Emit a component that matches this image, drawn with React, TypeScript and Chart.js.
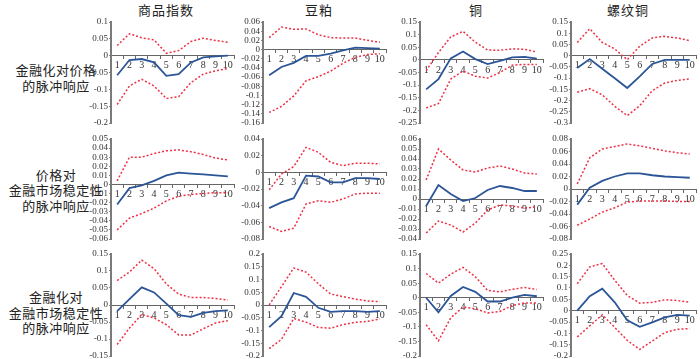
import React, { useEffect, useRef } from "react";
import { Chart, registerables } from "chart.js";

Chart.register(...registerables);

// ---------- data ----------
const PERIODS = ["1", "2", "3", "4", "5", "6", "7", "8", "9", "10"];
const COLUMN_TITLES = ["商品指数", "豆粕", "铜", "螺纹铜"];
const ROW_LABELS = [
  ["金融化对价格", "的脉冲响应"],
  ["价格对", "金融市场稳定性", "的脉冲响应"],
  ["金融化对", "金融市场稳定性", "的脉冲响应"],
];

// Row 1: 金融化对价格的脉冲响应
const r1IndexIrf = [-0.058, -0.013, -0.01, -0.02, -0.06, -0.055, -0.02, -0.005, -0.002, 0];
const r1IndexUp = [0.03, 0.065, 0.053, 0.047, 0.007, 0.015, 0.042, 0.052, 0.045, 0.04];
const r1IndexLo = [-0.145, -0.09, -0.07, -0.09, -0.127, -0.122, -0.08, -0.055, -0.045, -0.038];
const r1SoyIrf = [-0.056, -0.038, -0.029, -0.014, -0.014, -0.009, -0.002, 0.004, 0.003, 0.002];
const r1SoyUp = [0.026, 0.049, 0.044, 0.045, 0.032, 0.026, 0.025, 0.025, 0.02, 0.016];
const r1SoyLo = [-0.137, -0.124, -0.101, -0.068, -0.059, -0.047, -0.03, -0.017, -0.011, -0.009];
const r1CuIrf = [-0.117, -0.076, 0.006, 0.033, 0.003, -0.017, -0.004, 0.01, 0.012, 0.005];
const r1CuUp = [-0.043, 0.029, 0.091, 0.113, 0.07, 0.039, 0.038, 0.044, 0.042, 0.031];
const r1CuLo = [-0.19, -0.173, -0.076, -0.044, -0.065, -0.072, -0.05, -0.021, -0.018, -0.018];
const r1RebarIrf = [-0.055, -0.015, -0.058, -0.101, -0.144, -0.092, -0.037, -0.019, -0.019, -0.019];
const r1RebarUp = [0.059, 0.12, 0.059, 0.03, -0.018, 0.042, 0.079, 0.086, 0.079, 0.067];
const r1RebarLo = [-0.163, -0.147, -0.174, -0.226, -0.267, -0.223, -0.156, -0.122, -0.11, -0.103];

// Row 2: 价格对金融市场稳定性的脉冲响应
const r2IndexIrf = [-0.022, -0.004, -0.001, 0.004, 0.01, 0.013, 0.012, 0.011, 0.01, 0.009];
const r2IndexUp = [0.004, 0.03, 0.03, 0.034, 0.037, 0.038, 0.036, 0.033, 0.029, 0.027];
const r2IndexLo = [-0.05, -0.037, -0.032, -0.026, -0.018, -0.013, -0.011, -0.01, -0.009, -0.009];
const r2SoyIrf = [-0.043, -0.036, -0.031, -0.004, -0.005, -0.012, -0.012, -0.007, -0.007, -0.008];
const r2SoyUp = [-0.021, -0.002, 0.007, 0.03, 0.024, 0.012, 0.008, 0.011, 0.011, 0.01];
const r2SoyLo = [-0.065, -0.071, -0.067, -0.038, -0.034, -0.036, -0.032, -0.026, -0.025, -0.025];
const r2CuIrf = [-0.007, 0.014, 0.005, -0.002, 0.001, 0.009, 0.013, 0.011, 0.008, 0.008];
const r2CuUp = [0.019, 0.05, 0.039, 0.029, 0.027, 0.031, 0.033, 0.03, 0.026, 0.025];
const r2CuLo = [-0.034, -0.022, -0.026, -0.033, -0.024, -0.011, -0.006, -0.007, -0.009, -0.008];
const r2RebarIrf = [-0.025, 0.002, 0.013, 0.02, 0.025, 0.025, 0.022, 0.02, 0.019, 0.018];
const r2RebarUp = [0.008, 0.05, 0.064, 0.068, 0.072, 0.069, 0.065, 0.061, 0.058, 0.056];
const r2RebarLo = [-0.058, -0.048, -0.037, -0.03, -0.021, -0.019, -0.019, -0.019, -0.02, -0.02];

// Row 3: 金融化对金融市场稳定性的脉冲响应
const r3IndexIrf = [-0.018, 0.017, 0.052, 0.037, 0.004, -0.03, -0.035, -0.023, -0.018, -0.016];
const r3IndexUp = [0.072, 0.097, 0.132, 0.107, 0.062, 0.032, 0.022, 0.022, 0.019, 0.015];
const r3IndexLo = [-0.116, -0.068, -0.028, -0.038, -0.058, -0.088, -0.088, -0.07, -0.053, -0.046];
const r3SoyIrf = [-0.087, -0.044, 0.047, 0.032, -0.011, -0.027, -0.024, -0.024, -0.027, -0.024];
const r3SoyUp = [0, 0.072, 0.145, 0.129, 0.083, 0.043, 0.033, 0.023, 0.016, 0.013];
const r3SoyLo = [-0.171, -0.135, -0.053, -0.067, -0.088, -0.091, -0.077, -0.068, -0.064, -0.055];
const r3CuIrf = [0, -0.05, 0.006, 0.037, 0.02, -0.013, -0.013, 0, 0.01, 0.005];
const r3CuUp = [0.083, 0.05, 0.081, 0.104, 0.072, 0.025, 0.02, 0.029, 0.035, 0.028];
const r3CuLo = [-0.093, -0.148, -0.069, -0.032, -0.038, -0.052, -0.047, -0.027, -0.018, -0.018];
const r3RebarIrf = [0, 0.064, 0.097, 0.037, -0.042, -0.071, -0.052, -0.03, -0.019, -0.022];
const r3RebarUp = [0.119, 0.193, 0.208, 0.134, 0.067, 0.033, 0.037, 0.048, 0.045, 0.037];
const r3RebarLo = [-0.116, -0.067, -0.018, -0.074, -0.131, -0.171, -0.134, -0.097, -0.082, -0.079];

// Y tick labels per panel
const r1IndexTicks = [0.1, 0.05, 0, -0.05, -0.1, -0.15, -0.2];
const r1SoyTicks = [0.06, 0.04, 0.02, 0, -0.02, -0.04, -0.06, -0.08, -0.1, -0.12, -0.14, -0.16];
const r1CuTicks = [0.15, 0.1, 0.05, 0, -0.05, -0.1, -0.15, -0.2, -0.25];
const r1RebarTicks = [0.15, 0.1, 0.05, 0, -0.05, -0.1, -0.15, -0.2, -0.25, -0.3];
const r2IndexTicks = [0.05, 0.04, 0.03, 0.02, 0.01, 0, -0.01, -0.02, -0.03, -0.04, -0.05, -0.06];
const r2SoyTicks = [0.04, 0.02, 0, -0.02, -0.04, -0.06, -0.08];
const r2CuTicks = [0.06, 0.05, 0.04, 0.03, 0.02, 0.01, 0, -0.01, -0.02, -0.03, -0.04];
const r2RebarTicks = [0.08, 0.06, 0.04, 0.02, 0, -0.02, -0.04, -0.06, -0.08];
const r3IndexTicks = [0.15, 0.1, 0.05, 0, -0.05, -0.1, -0.15];
const r3SoyTicks = [0.2, 0.15, 0.1, 0.05, 0, -0.05, -0.1, -0.15, -0.2];
const r3CuTicks = [0.15, 0.1, 0.05, 0, -0.05, -0.1, -0.15, -0.2];
const r3RebarTicks = [0.25, 0.2, 0.15, 0.1, 0.05, 0, -0.05, -0.1, -0.15, -0.2];

const PANELS = [
  [
    { irf: r1IndexIrf, up: r1IndexUp, lo: r1IndexLo, ticks: r1IndexTicks },
    { irf: r1SoyIrf, up: r1SoyUp, lo: r1SoyLo, ticks: r1SoyTicks },
    { irf: r1CuIrf, up: r1CuUp, lo: r1CuLo, ticks: r1CuTicks },
    { irf: r1RebarIrf, up: r1RebarUp, lo: r1RebarLo, ticks: r1RebarTicks },
  ],
  [
    { irf: r2IndexIrf, up: r2IndexUp, lo: r2IndexLo, ticks: r2IndexTicks },
    { irf: r2SoyIrf, up: r2SoyUp, lo: r2SoyLo, ticks: r2SoyTicks },
    { irf: r2CuIrf, up: r2CuUp, lo: r2CuLo, ticks: r2CuTicks },
    { irf: r2RebarIrf, up: r2RebarUp, lo: r2RebarLo, ticks: r2RebarTicks },
  ],
  [
    { irf: r3IndexIrf, up: r3IndexUp, lo: r3IndexLo, ticks: r3IndexTicks },
    { irf: r3SoyIrf, up: r3SoyUp, lo: r3SoyLo, ticks: r3SoyTicks },
    { irf: r3CuIrf, up: r3CuUp, lo: r3CuLo, ticks: r3CuTicks },
    { irf: r3RebarIrf, up: r3RebarUp, lo: r3RebarLo, ticks: r3RebarTicks },
  ],
];

// ---------- layout ----------
const AXIS_X = [111, 263, 420, 571];
const AREA_W = [123, 123, 123, 125];
const AREA_TOP = [22, 139, 254];
const AREA_BOTTOM = [123, 239, 356];
const Y_AXIS_W = 40;
const PAD_T = 8;
const PAD_B = 8;
const PAD_R = 6;

const TITLE_CX = [166, 319, 476, 628];
const ROW_LINE_Y = [
  [70, 86],
  [175, 190, 206],
  [297, 313, 328],
];
const ROW_CX = 56;

const BLUE = "#2b5597";
const RED = "#ec3145";
const SERIF = '"Liberation Serif", "Times New Roman", serif';
const CJK = '"Noto Sans CJK SC", sans-serif';

function Panel({ r, c }: { r: number; c: number }) {
  const ref = useRef<HTMLCanvasElement>(null);
  const p = PANELS[r][c];
  const left = AXIS_X[c] - Y_AXIS_W;
  const top = AREA_TOP[r] - PAD_T;
  const width = Y_AXIS_W + AREA_W[c] + PAD_R;
  const height = AREA_BOTTOM[r] - AREA_TOP[r] + PAD_T + PAD_B;

  useEffect(() => {
    const ticks = p.ticks;
    const chart = new Chart(ref.current as HTMLCanvasElement, {
      type: "line",
      data: {
        labels: PERIODS,
        datasets: [
          { data: p.up, borderColor: RED, borderWidth: 1.5, borderDash: [2, 2], pointRadius: 0, fill: false },
          { data: p.lo, borderColor: RED, borderWidth: 1.5, borderDash: [2, 2], pointRadius: 0, fill: false },
          { data: p.irf, borderColor: BLUE, borderWidth: 1.8, pointRadius: 0, fill: false },
        ],
      },
      options: {
        animation: false,
        responsive: false,
        devicePixelRatio: 1,
        layout: { padding: { left: 0, top: PAD_T, right: PAD_R, bottom: PAD_B } },
        plugins: { legend: { display: false }, tooltip: { enabled: false } },
        elements: { line: { tension: 0 } },
        scales: {
          x: {
            type: "category",
            offset: true,
            position: { y: 0 } as any,
            grid: { display: true, drawOnChartArea: false, drawTicks: true, tickLength: 3, color: "#666", offset: true },
            border: { display: true, color: "#666", width: 1 },
            ticks: {
              autoSkip: false,
              maxRotation: 0,
              padding: 1,
              color: "#333",
              font: { family: SERIF, size: 10 },
            },
            afterFit: (s: any) => {
              s.height = 0;
              s.paddingLeft = 0;
              s.paddingRight = 0;
              s.paddingTop = 0;
              s.paddingBottom = 0;
            },
          },
          y: {
            type: "linear",
            min: ticks[ticks.length - 1],
            max: ticks[0],
            grid: { display: true, drawOnChartArea: false, drawTicks: true, tickLength: 2, color: "#888" },
            border: { display: true, color: "#7a7a7a", width: 2 },
            ticks: {
              autoSkip: false,
              padding: 1,
              color: "#333",
              font: { family: SERIF, size: 9 },
              callback: (v: any) => String(Math.round(Number(v) * 1000) / 1000),
            },
            afterBuildTicks: (s: any) => {
              s.ticks = ticks.map((v) => ({ value: v }));
            },
            afterFit: (s: any) => {
              s.width = Y_AXIS_W;
              s.paddingTop = 0;
              s.paddingBottom = 0;
              s.paddingLeft = 0;
              s.paddingRight = 0;
            },
          },
        },
      } as any,
    });
    return () => chart.destroy();
  }, []);

  return (
    <canvas
      ref={ref}
      width={width}
      height={height}
      style={{ position: "absolute", left, top, width, height }}
    />
  );
}

export default function App() {
  const panels = [];
  for (let r = 0; r < 3; r++) for (let c = 0; c < 4; c++) panels.push(<Panel key={`${r}-${c}`} r={r} c={c} />);
  return (
    <div
      style={{
        position: "absolute",
        left: 0,
        top: 0,
        width: 700,
        height: 359,
        overflow: "hidden",
        background: "#fff",
      }}
    >
      {COLUMN_TITLES.map((t, i) => (
        <div
          key={t}
          style={{
            position: "absolute",
            left: TITLE_CX[i] - 50,
            top: 2,
            width: 100,
            height: 16,
            lineHeight: "16px",
            textAlign: "center",
            fontFamily: CJK,
            fontSize: 13,
            letterSpacing: 1,
            color: "#222",
          }}
        >
          {t}
        </div>
      ))}
      {ROW_LABELS.map((lines, r) =>
        lines.map((ln, j) => (
          <div
            key={`${r}-${j}`}
            style={{
              position: "absolute",
              left: ROW_CX - 55,
              top: ROW_LINE_Y[r][j] - 8,
              width: 110,
              height: 16,
              lineHeight: "16px",
              textAlign: "center",
              fontFamily: CJK,
              fontSize: 13,
              letterSpacing: 0.5,
              color: "#222",
              whiteSpace: "nowrap",
            }}
          >
            {ln}
          </div>
        ))
      )}
      {panels}
    </div>
  );
}
